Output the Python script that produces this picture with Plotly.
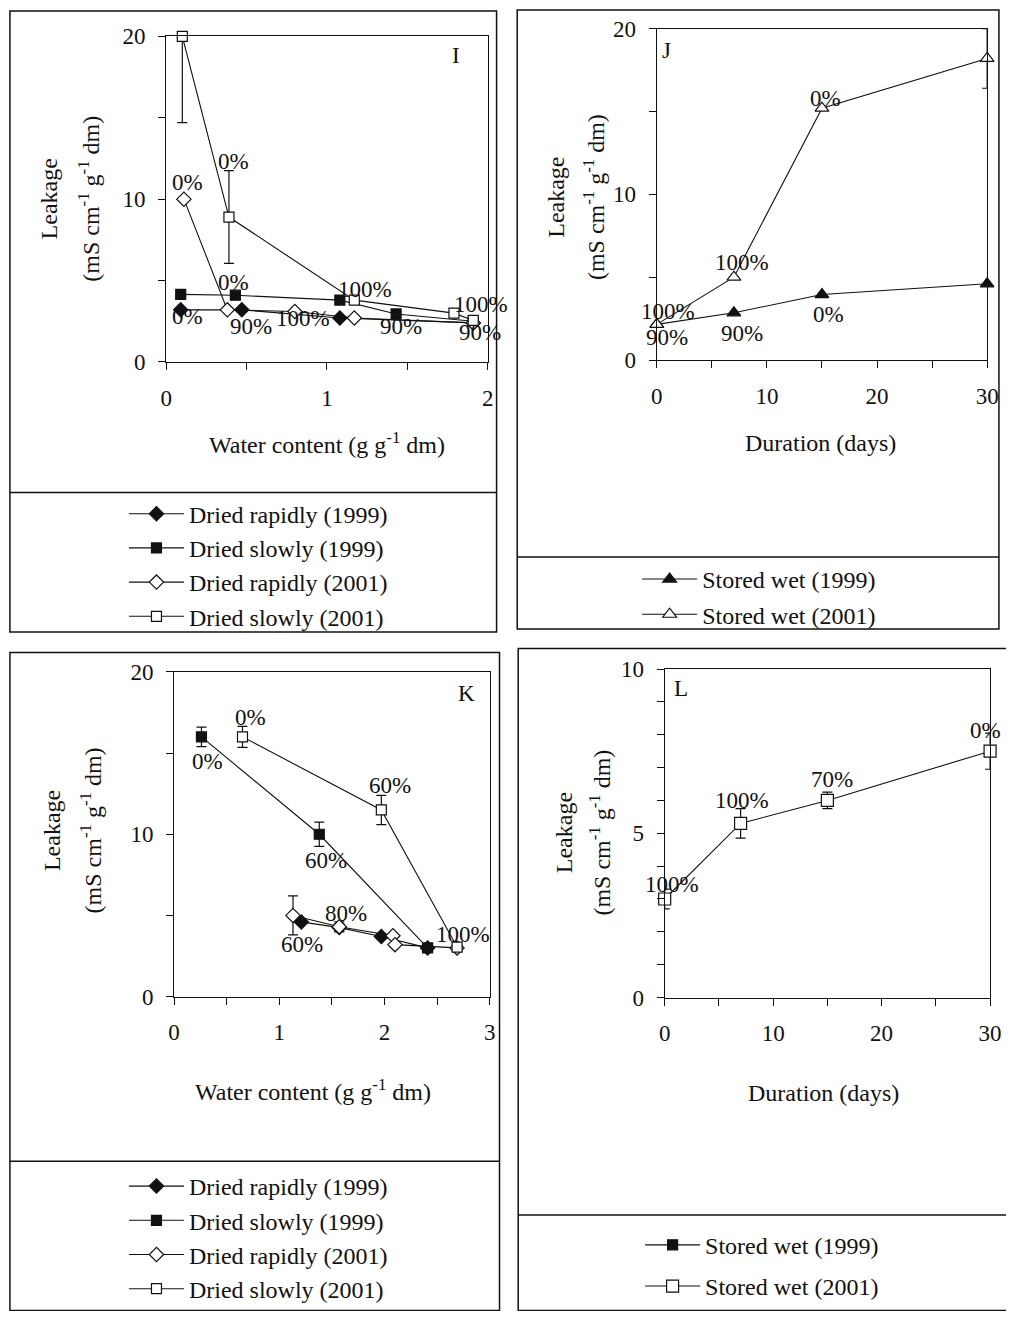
import plotly.graph_objects as go

# the page keeps the browser's default 8px body margin, so the figure is
# sized to fill the window that remains and positions are given in window px
WIN_W, WIN_H = 1022, 1327
OFF = 8
W, H = WIN_W - 2 * OFF, WIN_H - 2 * OFF
FONT = "Liberation Serif"
INK = "#111111"

# ---- Panel I: leakage vs water content ----
i_rapid99_x = [0.09, 0.47, 1.08, 1.91]
i_rapid99_y = [3.2, 3.2, 2.7, 2.4]
i_slow99_x = [0.09, 0.43, 1.08, 1.43, 1.91]
i_slow99_y = [4.15, 4.1, 3.8, 2.95, 2.5]
i_rapid01_x = [0.11, 0.38, 0.80, 1.17, 1.91]
i_rapid01_y = [10.0, 3.2, 3.1, 2.7, 2.4]
i_slow01_x = [0.10, 0.39, 1.17, 1.79, 1.91]
i_slow01_y = [20.0, 8.9, 3.8, 3.0, 2.55]
i_slow01_err_plus = [0.0, 2.85, 0.0, 0.0, 0.0]
i_slow01_err_minus = [5.3, 2.85, 0.0, 0.0, 0.0]
i_labels = ["0%", "0%", "0%", "0%", "90%", "100%", "100%", "90%", "100%", "90%"]
i_label_x = [0.42, 0.135, 0.42, 0.13, 0.53, 0.85, 1.235, 1.46, 1.96, 1.95]
i_label_y = [12.3, 11.0, 4.86, 2.82, 2.2, 2.64, 4.44, 2.2, 3.54, 1.8]

# ---- Panel J: leakage vs storage duration ----
j_days = [0, 7, 15, 30]
j_wet99 = [2.15, 2.85, 3.95, 4.6]
j_wet01 = [2.15, 5.0, 15.2, 18.2]
j_wet01_err = [0.0, 0.0, 0.0, 1.8]
j_labels = ["0%", "100%", "100%", "90%", "90%", "0%"]
j_label_x = [15.3, 7.7, 1.0, 0.9, 7.7, 15.6]
j_label_y = [15.8, 5.9, 2.94, 1.37, 1.57, 2.75]

# ---- Panel K: leakage vs water content ----
k_rapid99_x = [1.21, 1.57, 1.97, 2.41]
k_rapid99_y = [4.6, 4.25, 3.7, 3.0]
k_rapid99_err = [0.0, 0.25, 0.0, 0.0]
k_slow99_x = [0.26, 1.38, 2.41]
k_slow99_y = [16.0, 10.0, 3.0]
k_slow99_err = [0.6, 0.75, 0.15]
k_rapid01_x = [1.13, 1.57, 2.08, 2.10, 2.69]
k_rapid01_y = [5.0, 4.3, 3.75, 3.2, 3.0]
k_rapid01_err = [1.2, 0.3, 0.0, 0.0, 0.0]
k_slow01_x = [0.65, 1.97, 2.69]
k_slow01_y = [16.0, 11.5, 3.05]
k_slow01_err = [0.65, 0.9, 0.2]
k_labels = ["0%", "0%", "60%", "60%", "80%", "60%", "100%"]
k_label_x = [0.73, 0.32, 2.05, 1.44, 1.63, 1.22, 2.75]
k_label_y = [17.2, 14.5, 13.0, 8.4, 5.1, 3.2, 3.8]

# ---- Panel L: leakage vs storage duration ----
l_days = [0, 7, 15, 30]
l_wet01 = [3.0, 5.3, 6.0, 7.5]
l_wet01_err = [0.3, 0.45, 0.25, 0.55]
l_labels = ["100%", "100%", "70%", "0%"]
l_label_x = [0.63, 7.1, 15.4, 29.6]
l_label_y = [3.45, 6.0, 6.65, 8.14]

leak_title = "Leakage"
leak_units = "(mS cm<sup>-1</sup> g<sup>-1</sup> dm)"
wc_title = "Water content (g g<sup>-1</sup> dm)"
dur_title = "Duration (days)"


def px(x):
    return (x - OFF) / W


def py(y):
    return 1 - (y - OFF) / H


fig = go.Figure()


def err(arr_plus, arr_minus=None):
    d = dict(type="data", array=arr_plus, visible=True, color=INK,
             thickness=1.2, width=5)
    if arr_minus is not None:
        d["symmetric"] = False
        d["arrayminus"] = arr_minus
    return d


def series(x, y, name, symbol, filled, size, xa, ya, legend, group,
           error=None):
    fig.add_trace(go.Scatter(
        x=x, y=y, name=name, mode="lines+markers",
        xaxis=xa, yaxis=ya, legend=legend, legendgroup=group,
        line=dict(color=INK, width=1.1),
        marker=dict(symbol=symbol, size=size,
                    color=INK if filled else "white",
                    line=dict(color=INK, width=1.2)),
        error_y=error, cliponaxis=False,
    ))


# panel I
series(i_rapid99_x, i_rapid99_y, "Dried rapidly (1999)", "diamond", True, 11, "x", "y", "legend", "a")
series(i_slow99_x, i_slow99_y, "Dried slowly (1999)", "square", True, 10, "x", "y", "legend", "b")
series(i_rapid01_x, i_rapid01_y, "Dried rapidly (2001)", "diamond", False, 11, "x", "y", "legend", "c")
series(i_slow01_x, i_slow01_y, "Dried slowly (2001)", "square", False, 10, "x", "y", "legend", "d",
       err(i_slow01_err_plus, i_slow01_err_minus))

# panel J
series(j_days, j_wet99, "Stored wet (1999)", "triangle-up", True, 12, "x2", "y2", "legend2", "e")
series(j_days, j_wet01, "Stored wet (2001)", "triangle-up", False, 12, "x2", "y2", "legend2", "f",
       err(j_wet01_err))

# panel K
series(k_rapid99_x, k_rapid99_y, "Dried rapidly (1999)", "diamond", True, 11, "x3", "y3", "legend3", "g",
       err(k_rapid99_err))
series(k_slow99_x, k_slow99_y, "Dried slowly (1999)", "square", True, 10, "x3", "y3", "legend3", "h",
       err(k_slow99_err))
series(k_rapid01_x, k_rapid01_y, "Dried rapidly (2001)", "diamond", False, 11, "x3", "y3", "legend3", "i",
       err(k_rapid01_err))
series(k_slow01_x, k_slow01_y, "Dried slowly (2001)", "square", False, 10, "x3", "y3", "legend3", "j",
       err(k_slow01_err))

# panel L: the 1999 series has no points, only a legend entry
fig.add_trace(go.Scatter(
    x=[None], y=[None], name="Stored wet (1999)", mode="lines+markers",
    xaxis="x4", yaxis="y4", legend="legend4", legendgroup="k",
    line=dict(color=INK, width=1.1),
    marker=dict(symbol="square", size=10, color=INK, line=dict(color=INK, width=1.2)),
))
series(l_days, l_wet01, "Stored wet (2001)", "square", False, 12, "x4", "y4", "legend4", "l",
       err(l_wet01_err))

tickfont = dict(family=FONT, size=23, color=INK)
axis_common = dict(showline=True, linecolor=INK, linewidth=1.2, mirror=True,
                   ticks="outside", ticklen=7, tickcolor=INK, tickwidth=1.2,
                   showgrid=False, zeroline=False, tickfont=tickfont)


def xaxis(x0, x1, rng, vals, text, anchor):
    return dict(domain=[px(x0), px(x1)], range=rng, tickvals=vals, ticktext=text,
                anchor=anchor, ticklabelstandoff=8, **axis_common)


def yaxis(y0, y1, rng, vals, text, anchor):
    return dict(domain=[py(y1), py(y0)], range=rng, tickvals=vals, ticktext=text,
                anchor=anchor, ticklabelstandoff=8, **axis_common)


lv20 = [0, 5, 10, 15, 20]
lt20 = ["0", "", "10", "", "20"]
d30 = [0, 5, 10, 15, 20, 25, 30]
t30 = ["0", "", "10", "", "20", "", "30"]

fig.update_layout(
    xaxis=xaxis(171, 498, [0, 2], [0, 0.5, 1, 1.5, 2], ["0", "", "1", "", "2"], "y"),
    yaxis=yaxis(33, 367, [0, 20], lv20, lt20, "x"),
    xaxis2=xaxis(670, 1006, [0, 30], d30, t30, "y2"),
    yaxis2=yaxis(25, 365, [0, 20], lv20, lt20, "x2"),
    xaxis3=xaxis(179, 500, [0, 3], [0, 0.5, 1, 1.5, 2, 2.5, 3],
                 ["0", "", "1", "", "2", "", "3"], "y3"),
    yaxis3=yaxis(685, 1018, [0, 20], lv20, lt20, "x3"),
    xaxis4=xaxis(678, 1009, [0, 30], d30, t30, "y4"),
    yaxis4=yaxis(682, 1019, [0, 10], list(range(11)),
                 ["0", "", "", "", "", "5", "", "", "", "", "10"], "x4"),
)

legend_common = dict(font=dict(family=FONT, size=24, color=INK), bgcolor="rgba(0,0,0,0)",
                     borderwidth=0, itemwidth=55,
                     xanchor="left", yanchor="top", itemclick=False)
fig.update_layout(
    legend=dict(x=px(128), y=py(500), tracegroupgap=0, **legend_common),
    legend2=dict(x=px(650), y=py(567), tracegroupgap=1, **legend_common),
    legend3=dict(x=px(128), y=py(1190), tracegroupgap=0, **legend_common),
    legend4=dict(x=px(653), y=py(1250), tracegroupgap=7, **legend_common),
)

annos = []
txt_font = dict(family=FONT, size=23, color=INK)


def add_labels(labels, xs, ys, xr, yr):
    for t, x, y in zip(labels, xs, ys):
        annos.append(dict(text=t, x=x, y=y, xref=xr, yref=yr, showarrow=False,
                          xanchor="center", yanchor="middle", font=txt_font))


add_labels(i_labels, i_label_x, i_label_y, "x", "y")
add_labels(j_labels, j_label_x, j_label_y, "x2", "y2")
add_labels(k_labels, k_label_x, k_label_y, "x3", "y3")
add_labels(l_labels, l_label_x, l_label_y, "x4", "y4")

# panel letters
for t, x, y, xr, yr in [("I", 1.8, 18.8, "x", "y"), ("J", 0.9, 18.7, "x2", "y2"),
                        ("K", 2.78, 18.7, "x3", "y3"), ("L", 1.5, 9.4, "x4", "y4")]:
    annos.append(dict(text=t, x=x, y=y, xref=xr, yref=yr, showarrow=False,
                      xanchor="center", yanchor="middle", font=txt_font))

# axis titles
title_font = dict(family=FONT, size=24, color=INK)
for xl, xu, yc in [(52, 93, 200), (568, 606, 198), (55, 94, 848), (575, 612, 850)]:
    annos.append(dict(text=leak_title, x=px(xl), y=py(yc), xref="paper", yref="paper",
                      xanchor="center", yanchor="middle",
                      textangle=-90, showarrow=False, font=title_font))
    annos.append(dict(text=leak_units, x=px(xu), y=py(yc), xref="paper", yref="paper",
                      xanchor="center", yanchor="middle",
                      textangle=-90, showarrow=False, font=title_font))
for t, xc, yc in [(wc_title, 335, 450), (dur_title, 837, 450),
                  (wc_title, 320, 1114), (dur_title, 840, 1117)]:
    annos.append(dict(text=t, x=px(xc), y=py(yc), xref="paper", yref="paper",
                      xanchor="center", yanchor="middle",
                      showarrow=False, font=title_font))

fig.update_layout(annotations=annos)

# panel frames and the rules separating each legend
shapes = []
line = dict(color=INK, width=1.5)
for x0, y0, x1, y1, ysep in [(12, 7, 507, 644, 501), (528, 6, 1018, 641, 567),
                             (12, 665, 510, 1340, 1187), (529, 661, 1030, 1340, 1242)]:
    shapes.append(dict(type="rect", xref="paper", yref="paper",
                       x0=px(x0), x1=px(x1), y0=py(y1), y1=py(y0), line=line))
    shapes.append(dict(type="line", xref="paper", yref="paper",
                       x0=px(x0), x1=px(x1), y0=py(ysep), y1=py(ysep), line=line))
fig.update_layout(shapes=shapes)

fig.update_layout(width=W, height=H, autosize=False,
                  margin=dict(l=0, r=0, t=0, b=0),
                  paper_bgcolor="white", plot_bgcolor="white",
                  font=dict(family=FONT, color=INK))

fig.write_html("out.html")
